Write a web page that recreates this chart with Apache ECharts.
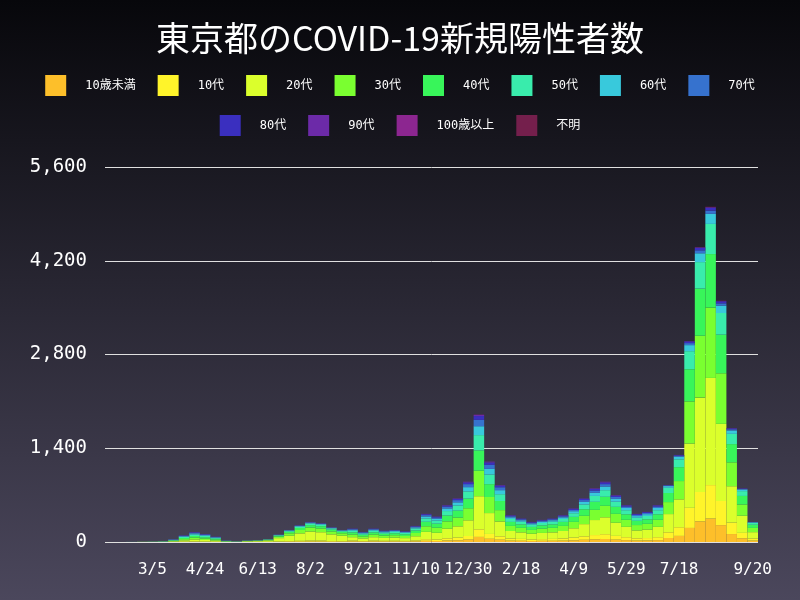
<!DOCTYPE html>
<html>
<head>
<meta charset="utf-8">
<script src="https://cdn.jsdelivr.net/npm/echarts@6/dist/echarts.min.js"></script>
<style>html,body{margin:0;padding:0;}#chart{width:800px;height:600px;}</style>
</head>
<body>
<div id="chart"></div>
<script>
var dates = ['1/25','2/4','2/14','2/24','3/5','3/15','3/25','4/4','4/14','4/24',
	'5/4','5/14','5/24','6/3','6/13','6/23','7/3','7/13','7/23','8/2',
	'8/12','8/22','9/1','9/11','9/21','10/1','10/11','10/21','10/31','11/10',
	'11/20','11/30','12/10','12/20','12/30','1/9','1/19','1/29','2/8','2/18',
	'2/28','3/10','3/20','3/30','4/9','4/19','4/29','5/9','5/19','5/29',
	'6/8','6/18','6/28','7/8','7/18','7/28','8/7','8/17','8/27','9/6',
	'9/16','9/20'];
var names = ['10歳未満','10代','20代','30代','40代','50代','60代','70代','80代','90代','100歳以上','不明'];
var colors = ['#fdbf2a','#fff42a','#dbff2c','#7aff30','#38f55a','#39ecac','#38c9dc','#3672ce','#3a2fbf','#6c2aa8','#8c2690','#741f4c'];

var age0 = [0,0,0,0,0,0,1,2,3,2,2,0,0, 0,1,1,2,4,5,6,6,4,4, 8,6,8,7,7,6,10,17,15,22,26,36,76,48,34, 20,18,15,17,18,20,25,33,40,45,35,28,21,23,28, 60,91,210,308,350,252,119,56,21];
var age10 = [0,0,0,0,0,0,1,3,5,4,2,1,0, 1,1,2,6,9,12,15,14,11,9, 12,9,12,10,11,10,14,25,23,33,39,54,114,72,51, 32,28,24,26,28,32,40,52,64,72,56,44,34,36,44, 85,130,300,440,500,360,170,80,30];
var age20 = [0,0,0,1,1,2,8,20,30,24,16,4,2, 9,11,18,50,81,112,135,126,99,81, 52,39,52,44,47,42,62,109,99,143,169,234,494,312,221, 112,98,84,92,98,112,140,182,224,252,196,154,118,126,154, 272,416,960,1408,1600,1152,544,256,96];
var age30 = [0,0,0,1,1,2,7,18,27,22,14,4,2, 4,5,8,22,36,50,60,56,44,36, 40,30,40,34,36,32,48,84,76,110,130,180,380,240,170, 76,67,57,63,67,76,95,124,152,171,133,105,80,86,105, 179,273,630,924,1050,756,357,168,63];
var age40 = [0,0,0,0,1,2,7,17,25,20,14,3,2, 2,3,5,13,22,30,36,34,26,22, 32,24,32,27,29,26,38,67,61,88,104,144,304,192,136, 60,53,45,50,53,60,75,98,120,135,105,83,63,68,83, 136,208,480,704,800,576,272,128,48];
var age50 = [0,0,1,1,1,2,6,15,22,18,12,3,1, 2,2,3,9,14,20,24,22,18,14, 24,18,24,20,22,19,29,50,46,66,78,108,228,144,102, 44,39,33,36,39,44,55,72,88,99,77,61,46,50,61, 77,117,270,396,450,324,153,72,27];
var age60 = [0,0,0,0,1,1,4,10,15,12,8,2,1, 1,1,2,4,7,10,12,11,9,7, 14,11,14,12,13,11,17,29,27,39,46,63,133,84,60, 24,21,18,20,21,24,30,39,48,54,42,33,25,27,33, 26,39,90,132,150,108,51,24,9];
var age70 = [0,0,0,0,0,1,3,8,12,10,6,2,1, 1,1,1,2,4,5,6,6,4,4, 10,8,10,9,9,8,12,21,19,28,33,45,95,60,43, 16,14,12,13,14,16,20,26,32,36,28,22,17,18,22, 9,13,30,44,50,36,17,8,3];
var age80 = [0,0,0,0,0,0,2,5,8,6,4,1,1, 0,0,0,1,2,3,3,3,2,2, 6,4,6,5,5,5,7,13,11,16,19,27,57,36,26, 12,10,9,10,10,12,15,20,24,27,21,16,13,13,16, 5,10,25,35,40,30,13,6,2];
var age90 = [0,0,0,0,0,0,1,2,3,2,2,0,0, 0,0,0,1,1,3,3,2,3,1, 2,1,2,2,1,1,3,5,3,5,6,9,19,12,7, 4,2,3,3,2,4,5,4,8,9,7,4,3,3,4, 1,3,5,9,10,6,4,2,1];
var age100 = [0,0,0,0,0,0,0,0,0,0,0,0,0, 0,0,0,0,0,0,0,0,0,0, 0,0,0,0,0,0,0,0,0,0,0,0,1,0,0, 0,0,0,0,0,0,0,0,0,0,0,0,0,0,0, 0,0,0,0,1,0,0,0,0];
var unknown = [0,0,0,0,0,0,0,0,0,0,0,0,0, 0,0,0,0,0,0,0,0,0,0, 0,0,0,0,0,0,0,0,0,0,0,0,2,0,0, 0,0,0,0,0,0,0,0,0,0,0,0,0,0,0, 0,0,0,3,5,4,0,0,0];
var yTicks = [0, 1400, 2800, 4200, 5600];

var values = [age0, age10, age20, age30, age40, age50, age60, age70, age80, age90, age100, unknown];
var chart = echarts.init(document.getElementById('chart'));
var font = 'DejaVu Sans Mono, Noto Sans CJK JP, monospace';

var series = names.map(function (n, i) {
	return {
		name: n,
		type: 'bar',
		stack: 'all',
		barCategoryGap: '0%',
		data: values[i],
		itemStyle: { color: colors[i] }
	};
});

function legendRow(top, items) {
	return {
		top: top,
		left: 'center',
		icon: 'rect',
		itemWidth: 21,
		itemHeight: 21,
		itemGap: 22,
		itemStyle: { borderWidth: 0 },
		textStyle: { color: '#ffffff', fontSize: 12, fontFamily: font, padding: [0, 0, 0, 14] },
		data: items
	};
}

chart.setOption({
	backgroundColor: new echarts.graphic.LinearGradient(0, 0, 0, 1, [
		{ offset: 0, color: '#07070b' },
		{ offset: 1, color: '#4b475c' }
	]),
	animation: false,
	title: {
		text: '東京都のCOVID-19新規陽性者数',
		left: 'center',
		top: 16,
		textStyle: { color: '#ffffff', fontSize: 34, fontWeight: 'normal', fontFamily: 'Noto Sans CJK JP' }
	},
	legend: [legendRow(70, names.slice(0, 8)), legendRow(110, names.slice(8))],
	grid: { left: 105, right: 42, top: 167, bottom: 58 },
	xAxis: {
		type: 'category',
		data: dates,
		axisLine: { show: false },
		axisTick: { show: false },
		axisLabel: {
			color: '#ffffff',
			fontSize: 16,
			fontFamily: font,
			margin: 20,
			interval: function (i) { return (i % 5 === 4 && i !== 59) || i === 61; }
		}
	},
	yAxis: {
		type: 'value',
		min: yTicks[0],
		max: yTicks[yTicks.length - 1],
		interval: 1400,
		axisLabel: {
			color: '#ffffff',
			fontSize: 19,
			fontFamily: font,
			margin: 18,
			formatter: function (v) { return v.toLocaleString('en-US'); }
		},
		splitLine: { lineStyle: { color: '#e0e0e0', width: 1 } }
	},
	series: series
});
</script>
</body>
</html>
